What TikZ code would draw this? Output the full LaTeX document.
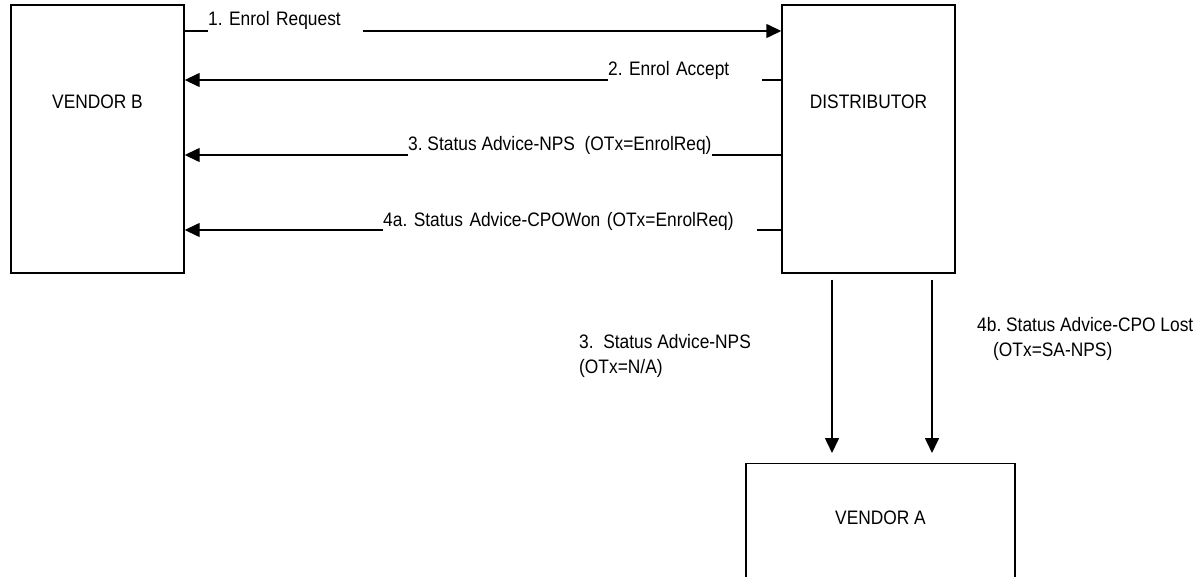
\documentclass[tikz,border=0pt]{standalone}
\usepackage{fontspec}
\setmainfont{Liberation Sans}[FakeStretch=0.89]
\usetikzlibrary{arrows.meta,positioning}

\tikzset{
  box/.style={draw, line width=1.4pt, minimum width=173pt, minimum height=268pt, inner sep=0pt},
  lbl/.style={font=\fontsize{19.5}{25}\selectfont, inner sep=0pt},
  msg/.style={lbl, fill=white, anchor=base west, align=left, inner ysep=3pt, text depth=4pt},
  arr/.style={line width=1.4pt, -{Triangle[length=15pt,width=14pt]}},
}

\begin{document}
\frenchspacing
\begin{tikzpicture}[x=1pt, y=-1pt]
    \useasboundingbox (0,0) rectangle (1204,577);

    % Dibuja las cajas
    \node[box] (vb) at (97.5,139) {};
    \node[box] (dist) at (868.5,139) {};
    \node[box, minimum width=269pt, minimum height=150pt, anchor=north] (va) at (880.5,463) {};
    \node[lbl, below=90pt of vb.north] (vbname) {VENDOR B};
    \node[lbl, below=90pt of dist.north] (distname) {DISTRIBUTOR};
    \node[lbl, below=48pt of va.north] (vaname) {VENDOR A};

    % Alturas de los mensajes
    \coordinate (m1) at (0,31);
    \coordinate (m2) at (0,80);
    \coordinate (m3) at (0,155);
    \coordinate (m4) at (0,230);
    \coordinate (x1) at (832,0);
    \coordinate (x2) at (932,0);

    % Mensajes entre VENDOR B y DISTRIBUTOR
    \draw[arr] (vb.east |- m1) -- (dist.west |- m1);
    \draw[arr] (dist.west |- m2) -- (vb.east |- m2);
    \draw[arr] (dist.west |- m3) -- (vb.east |- m3);
    \draw[arr] (dist.west |- m4) -- (vb.east |- m4);
    \node[msg, text width=155pt] (req) at (208,25.5) {1. Enrol Request};
    \node[msg, text width=154pt] (acc) at (608,76) {2. Enrol Accept};
    \node[msg] (nps) at (408,151) {3. Status Advice-NPS\ \ (OTx=EnrolReq)};
    \node[msg, text width=374pt] (won) at (383,226.5) {4a. Status Advice-CPOWon (OTx=EnrolReq)};

    % Mensajes hacia VENDOR A
    \draw[arr, line width=1.6pt, shorten <=6pt, shorten >=10pt] (dist.south -| x1) -- (va.north -| x1);
    \draw[arr, line width=1.6pt, shorten <=6pt, shorten >=10pt] (dist.south -| x2) -- (va.north -| x2);
    \node[lbl, align=left, anchor=west] (npsa) at (579,356) {3.\ \ Status Advice-NPS\\(OTx=N/A)};
    \node[lbl, align=left, anchor=west] (lost) at (977,339) {4b. Status Advice-CPO Lost\\\hspace*{16pt}(OTx=SA-NPS)};
\end{tikzpicture}
\end{document}
